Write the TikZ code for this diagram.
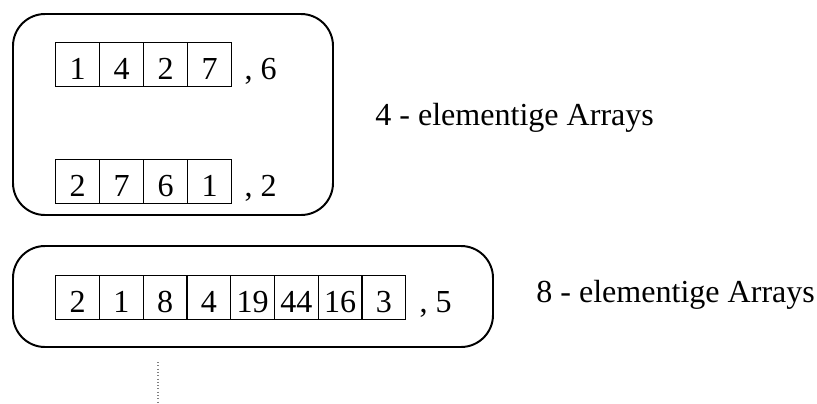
\documentclass[tikz,border=0pt]{standalone}
\usepackage{fontspec}
\setmainfont{Liberation Serif}
\newfontfamily\arrayschrift{Liberation Serif}
\usetikzlibrary{positioning}
\tikzset{
  zelle/.style={draw,line width=0.95pt,anchor=north west,inner sep=0pt,
    minimum width=1.1cm,text height=0.925cm,text depth=0.175cm},
  gruppe/.style={draw,line width=1.4pt,rounded corners=0.8cm},
  rest/.style={anchor=base west,inner sep=0pt},
  punkte/.style={gray,line width=0.8pt,dash pattern=on 0.7pt off 1.65pt}
}
\begin{document}
\begin{tikzpicture}[x=0.025cm,y=-0.025cm,font=\arrayschrift\fontsize{22.8}{27}\selectfont]
	\useasboundingbox (0,0) rectangle (817,403) ;
	% 4 - elementige Arrays
	\draw[gruppe] (13,14) rectangle (333,215) ;
	\foreach \w [count=\i] in {1,4,2,7}
		\node[zelle] (a\i) at ({55+44*(\i-1)},42) {\w} ;
	\node[rest] (ra) at ([xshift=0.3cm]a4.base east) {, 6} ;
	\foreach \w [count=\i] in {2,7,6,1}
		\node[zelle] (b\i) at ({55+44*(\i-1)},159) {\w} ;
	\node[rest] (rb) at ([xshift=0.3cm]b4.base east) {, 2} ;
	\node[rest] (la) at (375,125) {4 - elementige Arrays} ;
	% 8 - elementige Arrays
	\draw[gruppe] (13,246) rectangle (493,347) ;
	\foreach \w [count=\i] in {2,1,8,4,19,44,16,3}
		\node[zelle,minimum width=1.094cm] (c\i) at ({55+43.75*(\i-1)},275) {\w} ;
	\node[rest] (rc) at ([xshift=0.325cm]c8.base east) {, 5} ;
	\node[rest] (lc) at (536,302) {8 - elementige Arrays} ;
	% ...
	\coordinate (p1) at (158,362) ;
	\coordinate (p2) at (158,403) ;
	\draw[punkte] (p1) -- (p2) ;
\end{tikzpicture}
\end{document}
